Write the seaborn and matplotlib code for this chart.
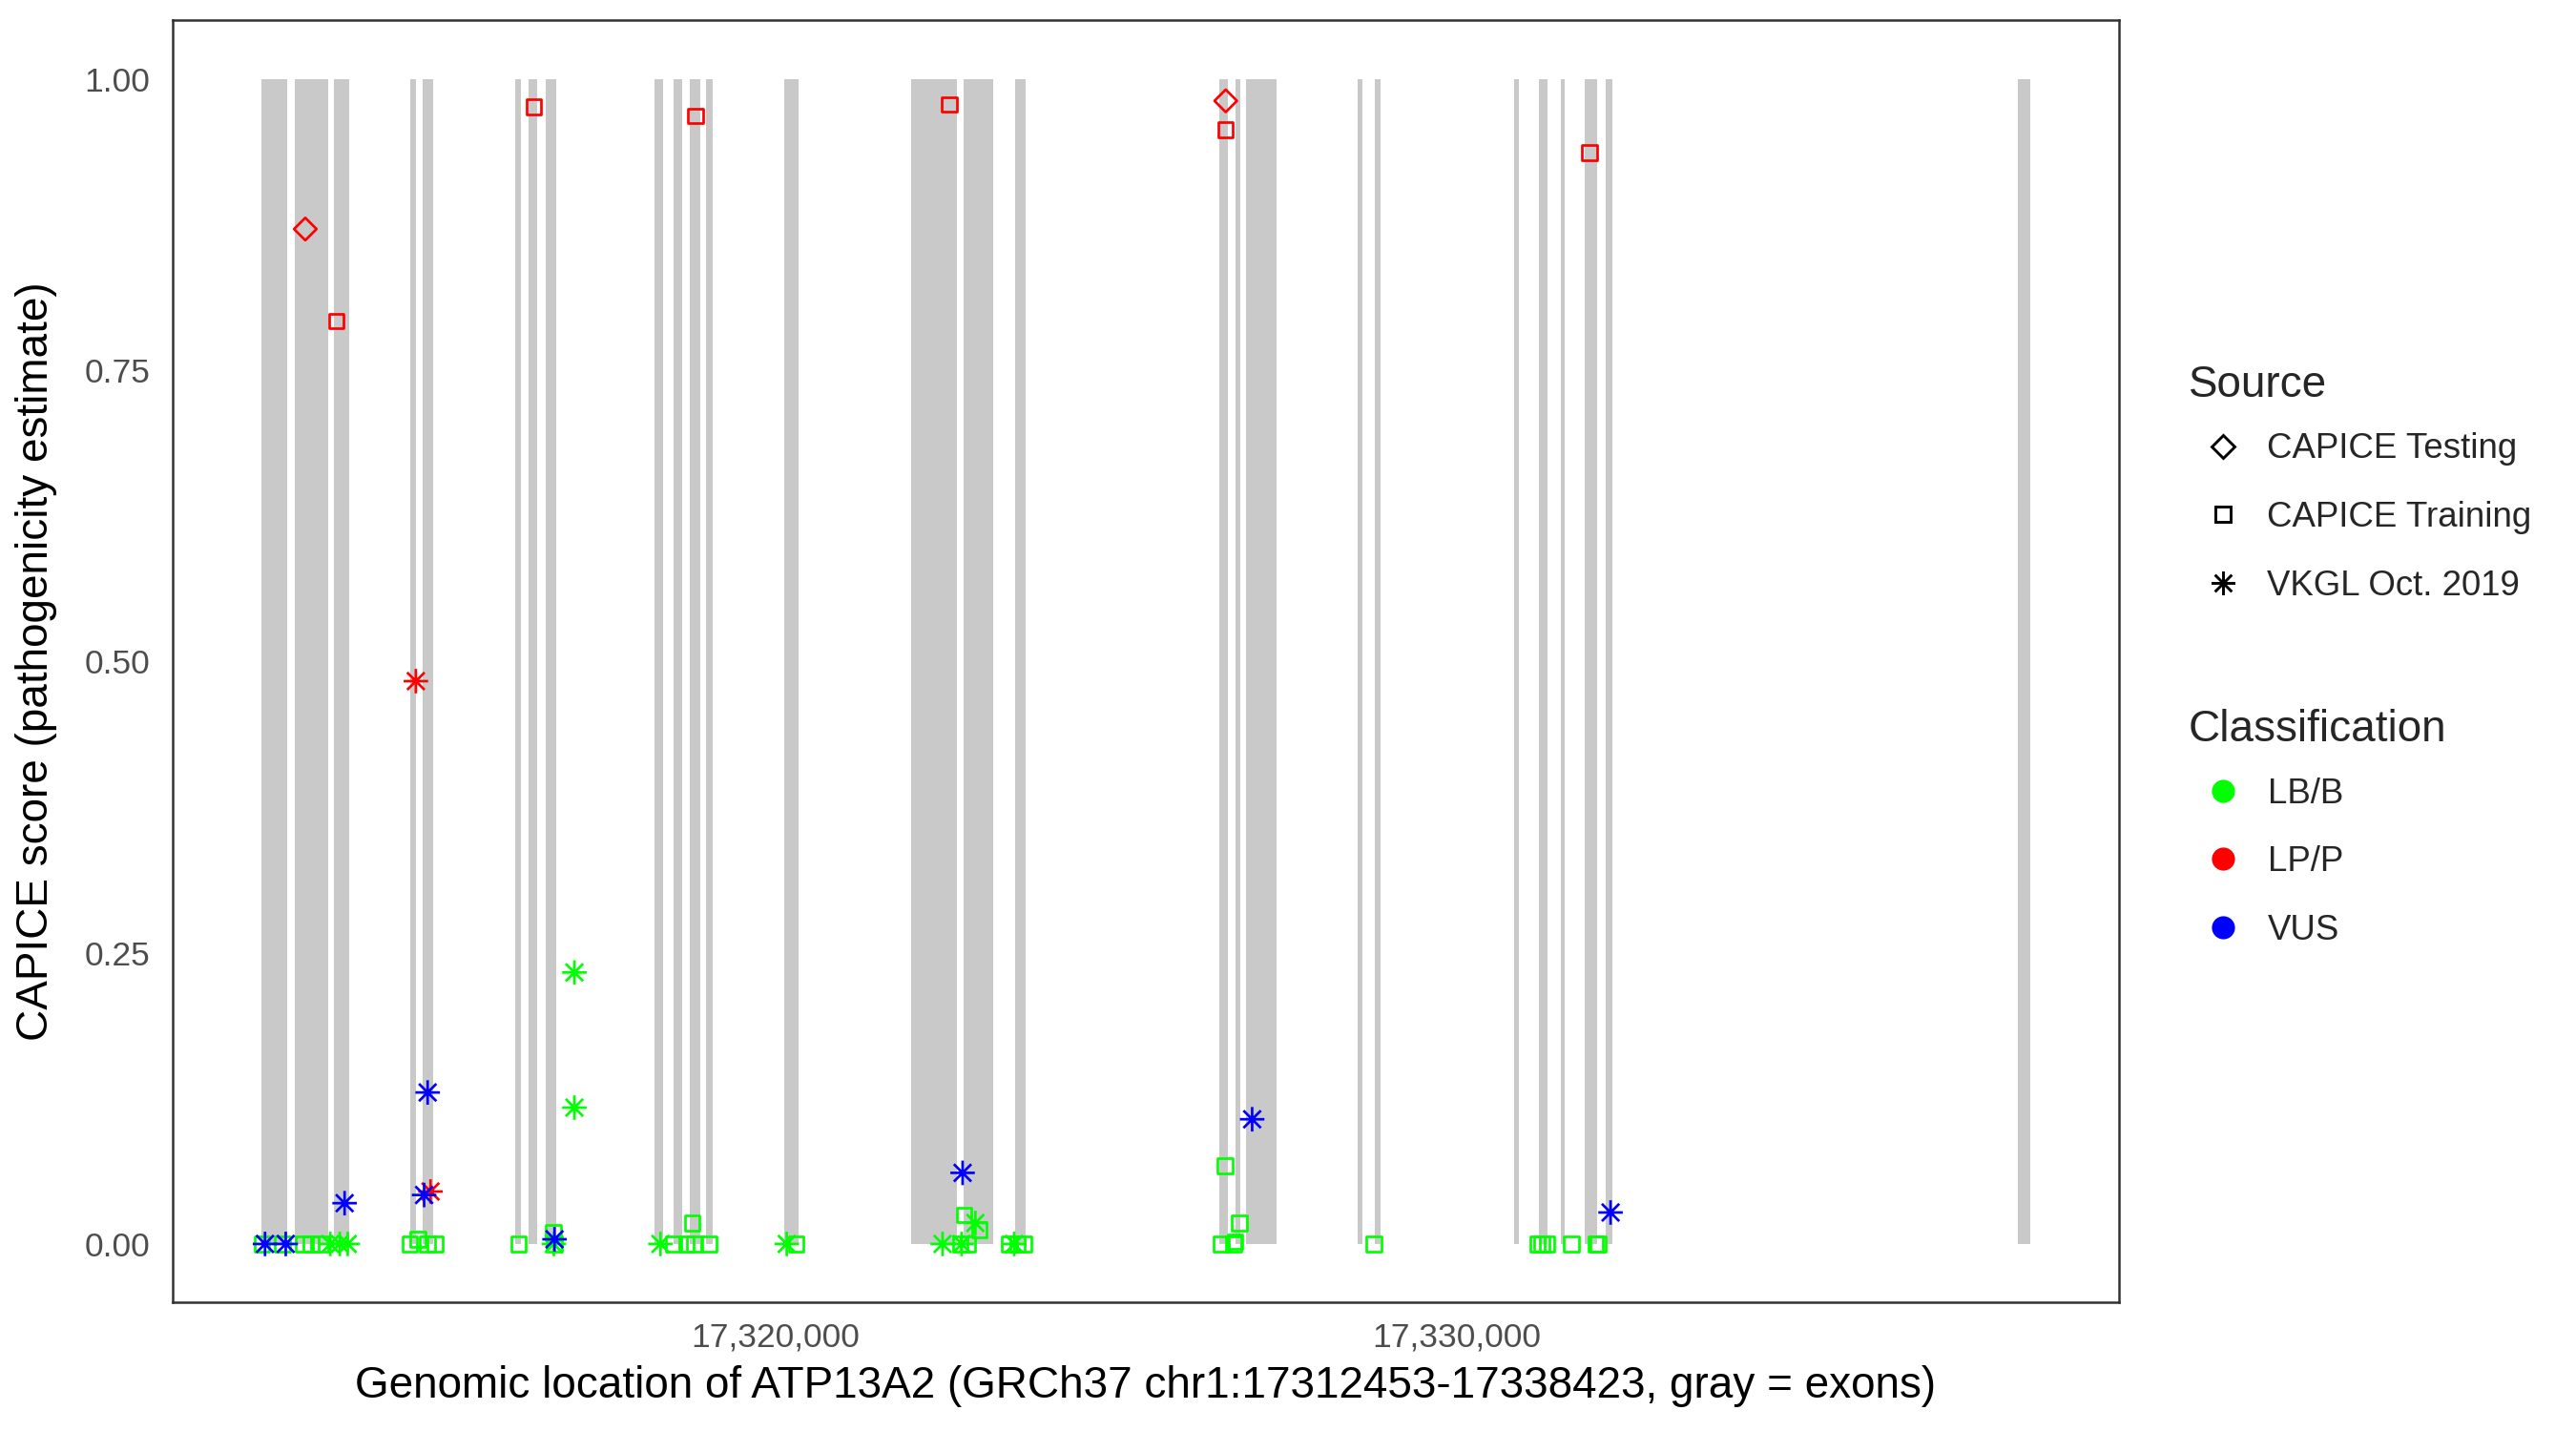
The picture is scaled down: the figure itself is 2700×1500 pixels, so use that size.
import matplotlib
matplotlib.use("Agg")
import seaborn as sns
sns.set_style("white")
import matplotlib.pyplot as plt
import pandas as pd
from matplotlib.path import Path
from matplotlib.lines import Line2D
from matplotlib.ticker import FixedLocator, FuncFormatter

plt.rcParams['font.family'] = ['Liberation Sans', 'DejaVu Sans']

gene_start = 17312453
gene_end = 17338423

# exons (gray bands)
exon_start = [17312453, 17312955, 17313529, 17314636, 17314818, 17316176, 17316372,
              17316625, 17318221, 17318501, 17318739, 17318978, 17320126, 17321989,
              17322759, 17323516, 17326513, 17326751, 17326905, 17328544, 17328796,
              17330841, 17331205, 17331527, 17331877, 17332185, 17338236]
exon_end = [17312843, 17313445, 17313753, 17314720, 17314972, 17316260, 17316498,
            17316779, 17318347, 17318627, 17318894, 17319076, 17320336, 17322661,
            17323193, 17323670, 17326639, 17326821, 17327353, 17328614, 17328880,
            17330911, 17331331, 17331583, 17332059, 17332283, 17338423]

# CAPICE Testing
test_pos = [17313102, 17326611]
test_score = [0.871, 0.981]
test_cls = ['LP/P', 'LP/P']

# CAPICE Training
train_pos = [17313557, 17316456, 17318832, 17322558, 17326605, 17331953,
             17312465, 17312769, 17313071, 17313189, 17313329,
             17314636, 17314752, 17314892, 17315010,
             17316232, 17316746, 17316760,
             17318511, 17318697, 17318781, 17318814, 17319024,
             17320308,
             17322713, 17322829, 17322769, 17322993,
             17323436, 17323553, 17323646,
             17326541, 17326601, 17326727, 17326750, 17326811,
             17328782,
             17331187, 17331250, 17331327, 17331685, 17332041, 17332073]
train_score = [0.792, 0.976, 0.968, 0.978, 0.956, 0.9365,
               0, 0, 0, 0, 0,
               0, 0.004, 0, 0,
               0, 0.010, 0,
               0, 0, 0.018, 0, 0,
               0,
               0, 0, 0.025, 0.012,
               0, 0, 0,
               0, 0.067, 0, 0.002, 0.018,
               0,
               0, 0, 0, 0, 0, 0]
train_cls = ['LP/P'] * 6 + ['LB/B'] * 37

# VKGL Oct. 2019
vkgl_pos = [17313469, 17313609, 17313725, 17316750, 17317052, 17317052,
            17318315, 17320168, 17322455, 17322735, 17322937, 17323506,
            17314725, 17314940,
            17312511, 17312815, 17313679, 17314846, 17314898, 17316760,
            17322749, 17326999, 17332259]
vkgl_score = [0, 0, 0, 0, 0.233, 0.117,
              0, 0, 0, 0, 0.018, 0,
              0.483, 0.045,
              0, 0, 0.035, 0.042, 0.130, 0.004,
              0.061, 0.107, 0.027]
vkgl_cls = ['LB/B'] * 12 + ['LP/P'] * 2 + ['VUS'] * 9

cls_colors = {'LB/B': '#00FF00', 'LP/P': '#FF0000', 'VUS': '#0000FF'}

# R-style asterisk (pch 8)
star = Path([(-1, 0), (1, 0), (0, -1), (0, 1),
             (-0.71, -0.71), (0.71, 0.71), (-0.71, 0.71), (0.71, -0.71)],
            [Path.MOVETO, Path.LINETO] * 4)

fig, ax = plt.subplots(1, 1, figsize=(9, 5), dpi=300)
fig.subplots_adjust(left=0.067, right=0.8226, top=0.9857, bottom=0.09)

ax.bar(exon_start, [1] * len(exon_start), width=[e - s for s, e in zip(exon_start, exon_end)],
       bottom=0, align='edge', color='#C9C9C9', linewidth=0, zorder=1)

layers = [
    (train_pos, train_score, train_cls, 's', 14),
    (vkgl_pos, vkgl_score, vkgl_cls, star, 38),
    (test_pos, test_score, test_cls, 'D', 16),
]
for pos, score, cls, mk, size in layers:
    df = pd.DataFrame({'pos': pos, 'score': score, 'cls': cls})
    sns.scatterplot(data=df, x='pos', y='score', hue='cls', palette=cls_colors,
                    marker=mk, s=size, linewidth=0.65, legend=False, ax=ax, zorder=3)
    pts = ax.collections[-1]
    pts.set_edgecolors(pts.get_facecolors())
    pts.set_facecolors('none')

span = gene_end - gene_start
ax.set_xlim(gene_start - 0.05 * span, gene_end + 0.05 * span)
ax.set_ylim(-0.05, 1.05)
ax.xaxis.set_major_locator(FixedLocator([17320000, 17330000]))
ax.xaxis.set_major_formatter(FuncFormatter(lambda v, p: f"{int(v):,}"))
ax.yaxis.set_major_locator(FixedLocator([0, 0.25, 0.5, 0.75, 1.0]))
ax.yaxis.set_major_formatter(FuncFormatter(lambda v, p: f"{v:.2f}"))

for sp in ax.spines.values():
    sp.set_visible(True)
    sp.set_color('#333333')
    sp.set_linewidth(0.6)
ax.tick_params(axis='both', length=2.7, width=0.6, color='#333333',
               labelcolor='#4D4D4D', labelsize=8.5)
ax.tick_params(axis='x', pad=2.2)
ax.tick_params(axis='y', pad=3.0)

ax.set_xlabel("Genomic location of ATP13A2 (GRCh37 chr1:17312453-17338423, gray = exons)",
              fontsize=11, color='black')
ax.set_ylabel("CAPICE score (pathogenicity estimate)", fontsize=11, color='black')
ax.xaxis.set_label_coords(0.5, -0.0655)
ax.xaxis.label.set_verticalalignment('center')
ax.yaxis.set_label_coords(-0.0701, 0.5)
ax.yaxis.label.set_verticalalignment('center')

src_handles = [
    Line2D([], [], ls='none', marker='D', mfc='none', mec='black', ms=4.2, mew=0.7),
    Line2D([], [], ls='none', marker='s', mfc='none', mec='black', ms=3.8, mew=0.7),
    Line2D([], [], ls='none', marker=star, mfc='none', mec='black', ms=6.0, mew=0.7),
]
leg1 = fig.legend(src_handles, ['CAPICE Testing', 'CAPICE Training', 'VKGL Oct. 2019'],
                  title='Source', loc='upper left', bbox_to_anchor=(2294 / 2700, 1 - 382 / 1500),
                  frameon=False, fontsize=8.8, title_fontsize=11, alignment='left',
                  handlelength=1.95, handletextpad=0.3, labelspacing=1.0,
                  borderpad=0, borderaxespad=0)

cls_handles = [Line2D([], [], ls='none', marker='o', color=cls_colors[c], ms=4.8)
               for c in ['LB/B', 'LP/P', 'VUS']]
leg2 = fig.legend(cls_handles, ['LB/B', 'LP/P', 'VUS'],
                  title='Classification', loc='upper left', bbox_to_anchor=(2294 / 2700, 1 - 743 / 1500),
                  frameon=False, fontsize=8.8, title_fontsize=11, alignment='left',
                  handlelength=1.95, handletextpad=0.3, labelspacing=1.0,
                  borderpad=0, borderaxespad=0)
# tighter gap between legend title and first key, like ggplot
for leg in (leg1, leg2):
    leg._legend_box.sep = 6.6

plt.savefig('out.png', dpi=300)
